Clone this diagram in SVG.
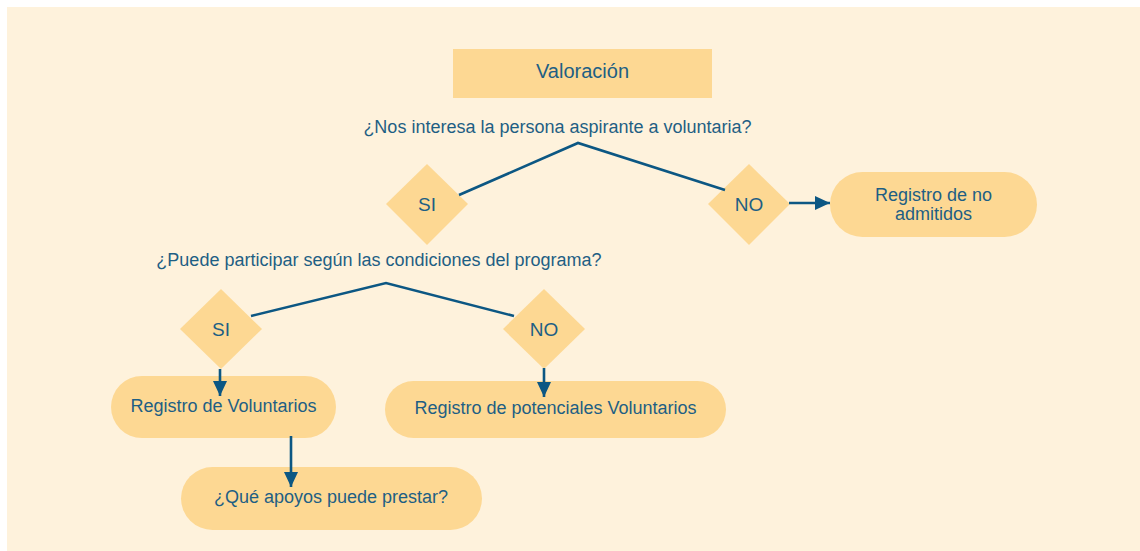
<svg xmlns="http://www.w3.org/2000/svg" width="1140" height="551" viewBox="0 0 1140 551">
<style>
.node{fill:#FDD893;}
.t{font-family:"Liberation Sans",Arial,sans-serif;fill:#1E5F84;font-size:18px;text-anchor:middle;}
.v{font-size:20px;}
.d{font-size:19px;}
.c{fill:none;stroke:#0C5783;stroke-width:2.6;}
</style>
<defs>
<marker id="ah" markerUnits="userSpaceOnUse" markerWidth="16" markerHeight="14" refX="15" refY="7" orient="auto">
<path d="M0,0 L15,7 L0,14 Z" fill="#0C5783"/>
</marker>
</defs>
<rect x="0" y="0" width="1140" height="551" fill="#FFFFFF"/>
<rect x="7" y="7" width="1133" height="544" fill="#FEF2DC"/>
<g id="valoracion">
<rect class="node" x="453" y="49" width="259" height="49"/>
<text class="t v" x="582.5" y="78">Valoración</text>
</g>
<g id="q1">
<text class="t" x="557.5" y="133">¿Nos interesa la persona aspirante a voluntaria?</text>
</g>
<g id="si1">
<polygon class="node" points="427,164 468,204 427,245 386,204"/>
<text class="t d" x="427" y="211">SI</text>
</g>
<g id="no1">
<polygon class="node" points="749,164 790,204 749,245 708,204"/>
<text class="t d" x="749" y="211">NO</text>
</g>
<g id="noadmitidos">
<rect class="node" x="830" y="172" width="207" height="65" rx="32.5"/>
<text class="t" x="933.5" y="201">Registro de no</text>
<text class="t" x="933.5" y="220">admitidos</text>
</g>
<g id="q2">
<text class="t" x="379" y="266">¿Puede participar según las condiciones del programa?</text>
</g>
<g id="si2">
<polygon class="node" points="221,289 262,329 221,369 180,329"/>
<text class="t d" x="221" y="336">SI</text>
</g>
<g id="no2">
<polygon class="node" points="544,289 585,329 544,369 503,329"/>
<text class="t d" x="544" y="336">NO</text>
</g>
<g id="regvoluntarios">
<rect class="node" x="111" y="376" width="225" height="62" rx="31"/>
<text class="t" x="223.5" y="412">Registro de Voluntarios</text>
</g>
<g id="regpotenciales">
<rect class="node" x="385" y="381" width="341" height="57" rx="28.5"/>
<text class="t" x="555.5" y="414">Registro de potenciales Voluntarios</text>
</g>
<g id="apoyos">
<rect class="node" x="181" y="467" width="301" height="63" rx="31.5"/>
<text class="t" x="331" y="503">¿Qué apoyos puede prestar?</text>
</g>
<g id="connectors">
<polyline class="c" points="459,195 578,143 725,190"/>
<line class="c" x1="789" y1="203" x2="830" y2="203" marker-end="url(#ah)"/>
<polyline class="c" points="251,316 386,283 514,316"/>
<line class="c" x1="220" y1="369" x2="220" y2="396" marker-end="url(#ah)"/>
<line class="c" x1="544" y1="368" x2="544" y2="397" marker-end="url(#ah)"/>
<line class="c" x1="291" y1="436" x2="291" y2="487" marker-end="url(#ah)"/>
</g>
</svg>
